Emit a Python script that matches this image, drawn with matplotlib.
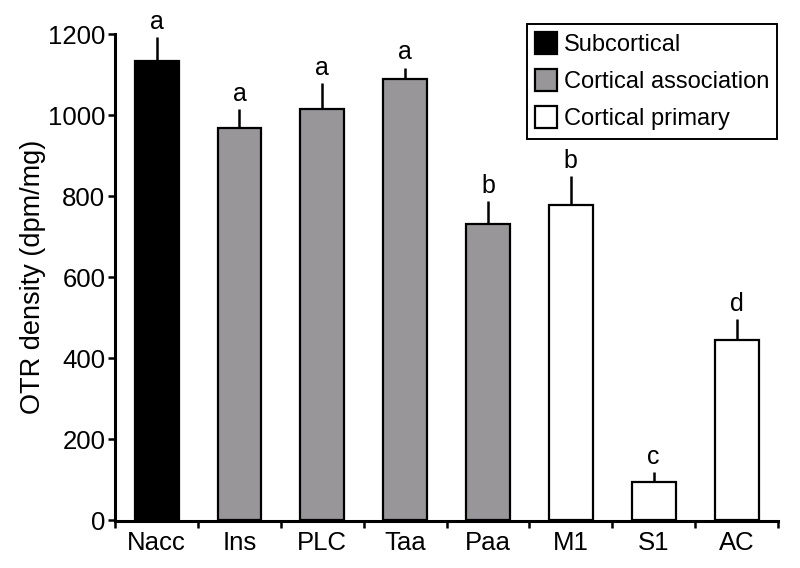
import matplotlib.pyplot as plt
from matplotlib.patches import Patch

plt.rcParams['font.family'] = ['Liberation Sans', 'DejaVu Sans']

regions = ['Nacc', 'Ins', 'PLC', 'Taa', 'Paa', 'M1', 'S1', 'AC']
otr_density = [1133, 968, 1015, 1089, 731, 778, 94, 444]
sem = [60, 47, 64, 28, 57, 71, 24, 52]
letters = ['a', 'a', 'a', 'a', 'b', 'b', 'c', 'd']
groups = ['Subcortical', 'Cortical association', 'Cortical association', 'Cortical association',
          'Cortical association', 'Cortical primary', 'Cortical primary', 'Cortical primary']

group_colors = {'Subcortical': 'black', 'Cortical association': '#989698', 'Cortical primary': 'white'}

fig = plt.figure(figsize=(8, 5.68), dpi=100)
ax = fig.add_axes([0.144, 0.0845, 0.8285, 0.8555])

x = list(range(len(regions)))
colors = [group_colors[g] for g in groups]
ax.bar(x, otr_density, width=0.53, color=colors, edgecolor='black', linewidth=1.6, zorder=2)
ax.errorbar(x, otr_density, yerr=[[0] * len(sem), sem], fmt='none', ecolor='black',
            elinewidth=1.8, capsize=0, zorder=1)

for xi, v, e, lab in zip(x, otr_density, sem, letters):
    ax.text(xi, v + e + 8, lab, ha='center', va='bottom', fontsize=18)

ax.set_xlim(-0.5, 7.5)
ax.set_ylim(0, 1200)
ax.set_yticks(range(0, 1201, 200))
ax.set_xticks(x)
ax.set_xticklabels(regions)
ax.set_xticks([i - 0.5 for i in range(len(regions) + 1)], minor=True)
ax.tick_params(axis='x', which='major', length=0, labelsize=18.5, pad=7)
ax.tick_params(axis='x', which='minor', length=5, width=1.8, direction='out')
ax.tick_params(axis='y', length=5, width=1.8, labelsize=18.5, pad=2)

for side in ['top', 'right']:
    ax.spines[side].set_visible(False)
for side in ['left', 'bottom']:
    ax.spines[side].set_linewidth(2.2)
ax.spines['bottom'].set_position(('outward', 1))

ax.set_ylabel('OTR density (dpm/mg)', fontsize=19.5)
ax.yaxis.set_label_coords(-0.105, 0.5)

handles = [Patch(facecolor=group_colors[g], edgecolor='black', linewidth=1.6, label=g)
           for g in ['Subcortical', 'Cortical association', 'Cortical primary']]
leg = ax.legend(handles=handles, loc='upper right', bbox_to_anchor=(1.006, 1.03), fontsize=17,
                fancybox=False, edgecolor='black', framealpha=1, handlelength=0.9,
                handleheight=1.05, handletextpad=0.3, borderpad=0.35, labelspacing=0.55,
                borderaxespad=0.2)
leg.get_frame().set_linewidth(1.4)

fig.savefig('out.png', dpi=100)
